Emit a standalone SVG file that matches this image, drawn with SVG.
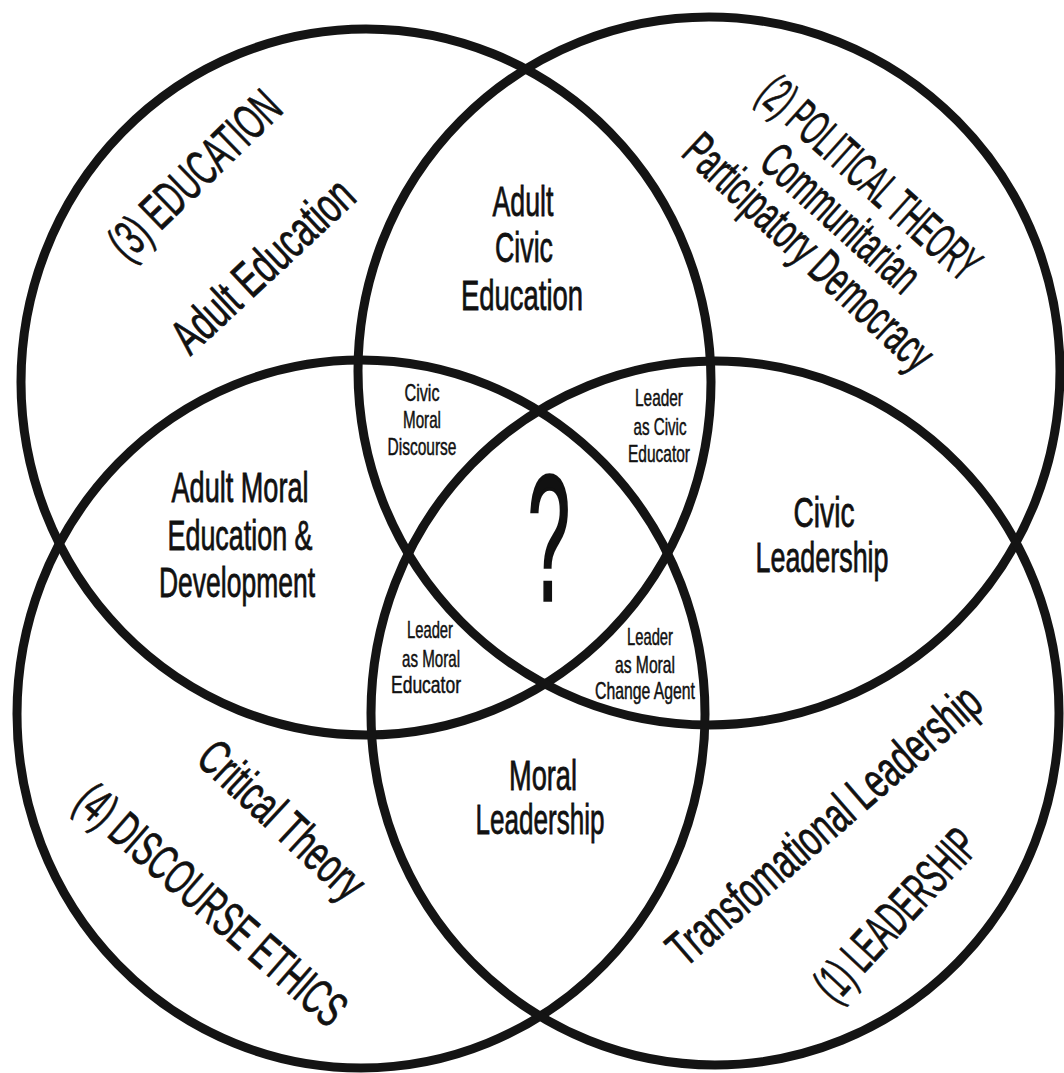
<svg xmlns="http://www.w3.org/2000/svg" width="1064" height="1073" viewBox="0 0 1064 1073">
<style>
.ring{fill:none;stroke:#141414;stroke-width:9}
text{font-family:"Liberation Sans Narrow","Liberation Sans",Arial,sans-serif;fill:#111;stroke:#111;stroke-width:0.8;text-anchor:middle}
.big{font-size:43px}
.lab{font-size:50px}
.sm{font-size:24px;stroke-width:0.5}
.q{font-size:178px;stroke-width:3.5}
</style>
<rect width="1064" height="1073" fill="#fff"/>
<g id="circle-education">
<ellipse class="ring" cx="366" cy="382" rx="345" ry="353"/>
<text class="lab" transform="translate(194,174) rotate(-44)" x="0" y="18" textLength="218" lengthAdjust="spacingAndGlyphs">(3) EDUCATION</text>
<text class="lab" transform="translate(262,265) rotate(-43)" x="0" y="18" textLength="230" lengthAdjust="spacingAndGlyphs">Adult Education</text>
</g>
<g id="circle-political">
<ellipse class="ring" cx="709" cy="371" rx="351" ry="354"/>
<text class="lab" transform="translate(870,178) rotate(42)" x="0" y="17" textLength="278" lengthAdjust="spacingAndGlyphs">(2) POLITICAL THEORY</text>
<text class="lab" transform="translate(841,218) rotate(42)" x="0" y="17" textLength="195" lengthAdjust="spacingAndGlyphs">Communitarian</text>
<text class="lab" transform="translate(809,252) rotate(43)" x="0" y="17" textLength="322" lengthAdjust="spacingAndGlyphs">Participatory Democracy</text>
</g>
<g id="circle-discourse">
<ellipse class="ring" cx="361" cy="714" rx="344" ry="354"/>
<text class="lab" transform="translate(282,820) rotate(43)" x="0" y="17" textLength="208" lengthAdjust="spacingAndGlyphs">Critical Theory</text>
<text class="lab" transform="translate(212,904) rotate(41)" x="0" y="18" textLength="340" lengthAdjust="spacingAndGlyphs">(4) DISCOURSE ETHICS</text>
</g>
<g id="circle-leadership">
<ellipse class="ring" cx="715" cy="713" rx="344" ry="352"/>
<text class="lab" transform="translate(824,825) rotate(-41)" x="0" y="17" textLength="398" lengthAdjust="spacingAndGlyphs">Transfomational Leadership</text>
<text class="lab" transform="translate(895,914) rotate(-47)" x="0" y="18" textLength="214" lengthAdjust="spacingAndGlyphs">(1) LEADERSHIP</text>
</g>
<g id="adult-civic-education">
<text class="big" x="523" y="216" textLength="61" lengthAdjust="spacingAndGlyphs">Adult</text>
<text class="big" x="524" y="262" textLength="58" lengthAdjust="spacingAndGlyphs">Civic</text>
<text class="big" x="522" y="310" textLength="122" lengthAdjust="spacingAndGlyphs">Education</text>
</g>
<g id="adult-moral-education">
<text class="big" x="240" y="502" textLength="137" lengthAdjust="spacingAndGlyphs">Adult Moral</text>
<text class="big" x="240" y="550" textLength="145" lengthAdjust="spacingAndGlyphs">Education &amp;</text>
<text class="big" x="237" y="597" textLength="156" lengthAdjust="spacingAndGlyphs">Development</text>
</g>
<g id="civic-leadership">
<text class="big" x="824" y="527" textLength="61" lengthAdjust="spacingAndGlyphs">Civic</text>
<text class="big" x="822" y="572" textLength="133" lengthAdjust="spacingAndGlyphs">Leadership</text>
</g>
<g id="moral-leadership">
<text class="big" x="543" y="790" textLength="68" lengthAdjust="spacingAndGlyphs">Moral</text>
<text class="big" x="540" y="834" textLength="129" lengthAdjust="spacingAndGlyphs">Leadership</text>
</g>
<g id="civic-moral-discourse">
<text class="sm" x="422" y="401" textLength="35" lengthAdjust="spacingAndGlyphs">Civic</text>
<text class="sm" x="422" y="428" textLength="38" lengthAdjust="spacingAndGlyphs">Moral</text>
<text class="sm" x="422" y="455" textLength="69" lengthAdjust="spacingAndGlyphs">Discourse</text>
</g>
<g id="leader-civic-educator">
<text class="sm" x="659" y="406" textLength="48" lengthAdjust="spacingAndGlyphs">Leader</text>
<text class="sm" x="660" y="435" textLength="53" lengthAdjust="spacingAndGlyphs">as Civic</text>
<text class="sm" x="659" y="462" textLength="62" lengthAdjust="spacingAndGlyphs">Educator</text>
</g>
<g id="leader-moral-educator">
<text class="sm" x="430" y="638" textLength="46" lengthAdjust="spacingAndGlyphs">Leader</text>
<text class="sm" x="431" y="667" textLength="58" lengthAdjust="spacingAndGlyphs">as Moral</text>
<text class="sm" x="426" y="693" textLength="70" lengthAdjust="spacingAndGlyphs">Educator</text>
</g>
<g id="leader-moral-change-agent">
<text class="sm" x="650" y="645" textLength="46" lengthAdjust="spacingAndGlyphs">Leader</text>
<text class="sm" x="645" y="673" textLength="60" lengthAdjust="spacingAndGlyphs">as Moral</text>
<text class="sm" x="645" y="699" textLength="100" lengthAdjust="spacingAndGlyphs">Change Agent</text>
</g>
<g id="center">
<text class="q" x="549" y="600" textLength="42" lengthAdjust="spacingAndGlyphs">?</text>
</g>
<g id="connectors"/>
</svg>
